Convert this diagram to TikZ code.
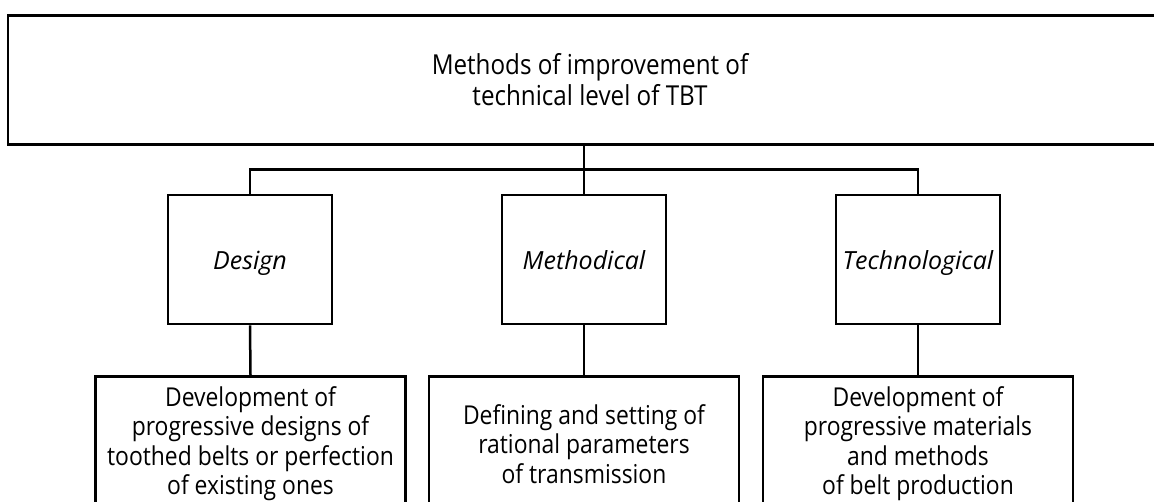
\documentclass[tikz,border=0pt]{standalone}
\usepackage{fontspec}
\setmainfont{Open Sans}[FakeStretch=0.88]
\newfontfamily\labelfont{Open Sans}
\begin{document}
\begin{tikzpicture}[x=1pt,y=-1pt,
  box/.style={draw, line width=2.8pt, rectangle, inner sep=0pt, align=center, font=\fontsize{26}{29.5}\selectfont},
  kind/.style={box, minimum width=164pt, minimum height=129pt, text height=19pt, text depth=0pt, font=\fontsize{25}{30}\labelfont\itshape},
  leaf/.style={box, minimum width=310pt, minimum height=135pt},
  link/.style={line width=2.5pt}]
\useasboundingbox (0,0) rectangle (1154,501);
\clip (0,0) rectangle (1154,501);
\node[box, minimum width=1164pt, minimum height=129pt, font=\fontsize{27.5}{31}\selectfont] (top) at (590,80) {Methods of improvement of\\technical level of TBT};
\node[kind] (des) at (250,259.5) {Design};
\node[kind] (met) at (584,259.5) {Methodical};
\node[kind] (tec) at (918,259.5) {Technological};
\node[leaf, anchor=north] (des2) at (250.5,375) {Development of\\progressive designs of\\toothed belts or perfection\\of existing ones};
\node[leaf, anchor=north] (met2) at (584,375) {Defining and setting of\\rational parameters\\of transmission};
\node[leaf, anchor=north] (tec2) at (918,375) {Development of\\progressive materials\\and methods\\of belt production};
\draw[link] (top.south -| met.north) -- (met.north);
\draw[link] (des.north) -- ++(0,-24) -| (tec.north);
\draw[link] (des.south) -- (des2.north);
\draw[link] (met.south) -- (met2.north);
\draw[link] (tec.south) -- (tec2.north);
\end{tikzpicture}
\end{document}
